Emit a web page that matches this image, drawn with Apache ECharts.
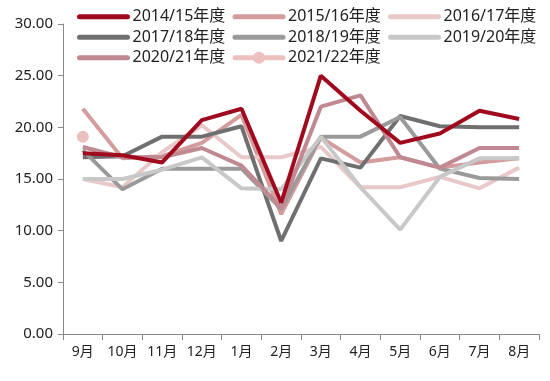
<!DOCTYPE html>
<html>
<head>
<meta charset="utf-8">
<script src="https://cdn.jsdelivr.net/npm/echarts@6/dist/echarts.min.js"></script>
<style>
  html, body { margin: 0; padding: 0; background: #fff; }
  #chart { width: 550px; height: 381px; }
</style>
</head>
<body>
<div id="chart"></div>
<script>
// 月份
const months = ['9月', '10月', '11月', '12月', '1月', '2月', '3月', '4月', '5月', '6月', '7月', '8月'];

// 各年度数值
const s1415 = [17.5, 17.3, 16.6, 20.7, 21.8, 12.7, 25.0, 21.6, 18.5, 19.4, 21.6, 20.8];
const s1516 = [21.8, 17.0, 17.2, 18.5, 21.2, 11.6, 19.0, 16.6, 17.1, 16.1, 16.6, 17.0];
const s1617 = [15.0, 14.2, 17.6, 20.2, 17.1, 17.1, 18.1, 14.2, 14.2, 15.2, 14.1, 16.1];
const s1718 = [17.1, 17.2, 19.1, 19.1, 20.1, 9.0, 17.0, 16.1, 21.1, 20.1, 20.0, 20.0];
const s1819 = [17.8, 14.0, 16.0, 16.0, 16.0, 12.1, 19.1, 19.1, 21.0, 16.0, 15.1, 15.0];
const s1920 = [15.0, 15.0, 15.9, 17.1, 14.1, 14.0, 19.1, 14.2, 10.1, 15.2, 17.0, 17.0];
const s2021 = [18.1, 17.1, 17.1, 18.0, 16.3, 12.2, 22.0, 23.1, 17.1, 16.1, 18.0, 18.0];
const s2122 = [19.1, null, null, null, null, null, null, null, null, null, null, null];

const seasons = ['2014/15年度', '2015/16年度', '2016/17年度', '2017/18年度',
                 '2018/19年度', '2019/20年度', '2020/21年度', '2021/22年度'];
const values = [s1415, s1516, s1617, s1718, s1819, s1920, s2021, s2122];
const colors = ['#A00A1E', '#D49C9C', '#E8C8C8', '#6F6F6F',
                '#9A9A9A', '#C8C8C8', '#C08890', '#EDC0C0'];

const font = '"Noto Sans", "Noto Sans CJK SC", sans-serif';

const chart = echarts.init(document.getElementById('chart'));

const lastIdx = seasons.length - 1;

const series = seasons.map((name, i) => ({
    name: name,
    type: 'line',
    data: values[i],
    symbol: i === lastIdx ? 'circle' : 'none',
    symbolSize: i === lastIdx ? 12 : 0,
    showSymbol: i === lastIdx,
    z: i === 0 ? 5 : 2,
    itemStyle: { color: colors[i] },
    lineStyle: { color: colors[i], width: 4 }
}));

// 图例：只有最后一个年度显示圆点
const legendData = seasons.map((name, i) => (
    i === lastIdx ? { name: name } : { name: name, itemStyle: { opacity: 0 } }
));

chart.setOption({
    animation: false,
    color: colors,
    legend: {
        data: legendData,
        left: 77,
        top: 8,
        padding: 0,
        width: 470,
        itemWidth: 48,
        itemHeight: 15,
        itemGap: 3,
        lineStyle: { width: 5, cap: 'round' },
        textStyle: {
            fontFamily: font,
            fontSize: 16,
            color: '#222',
            width: 97,
            lineHeight: 17.5
        }
    },
    grid: { left: 63, right: 11, top: 24, bottom: 47 },
    xAxis: {
        type: 'category',
        data: months,
        boundaryGap: true,
        axisLine: { lineStyle: { color: '#888', width: 1 } },
        axisTick: { show: true, length: 6, lineStyle: { color: '#888' } },
        axisLabel: { color: '#222', fontFamily: font, fontSize: 14, margin: 11, interval: 0 },
        splitLine: { show: false }
    },
    yAxis: {
        type: 'value',
        min: 0,
        max: 30,
        interval: 5,
        axisLine: { show: true, lineStyle: { color: '#888', width: 1 } },
        axisTick: { show: true, length: 5, lineStyle: { color: '#888' } },
        axisLabel: {
            color: '#222',
            fontFamily: font,
            fontSize: 15,
            margin: 10,
            formatter: v => v.toFixed(2)
        },
        splitLine: { show: false }
    },
    series: series
});
</script>
</body>
</html>
